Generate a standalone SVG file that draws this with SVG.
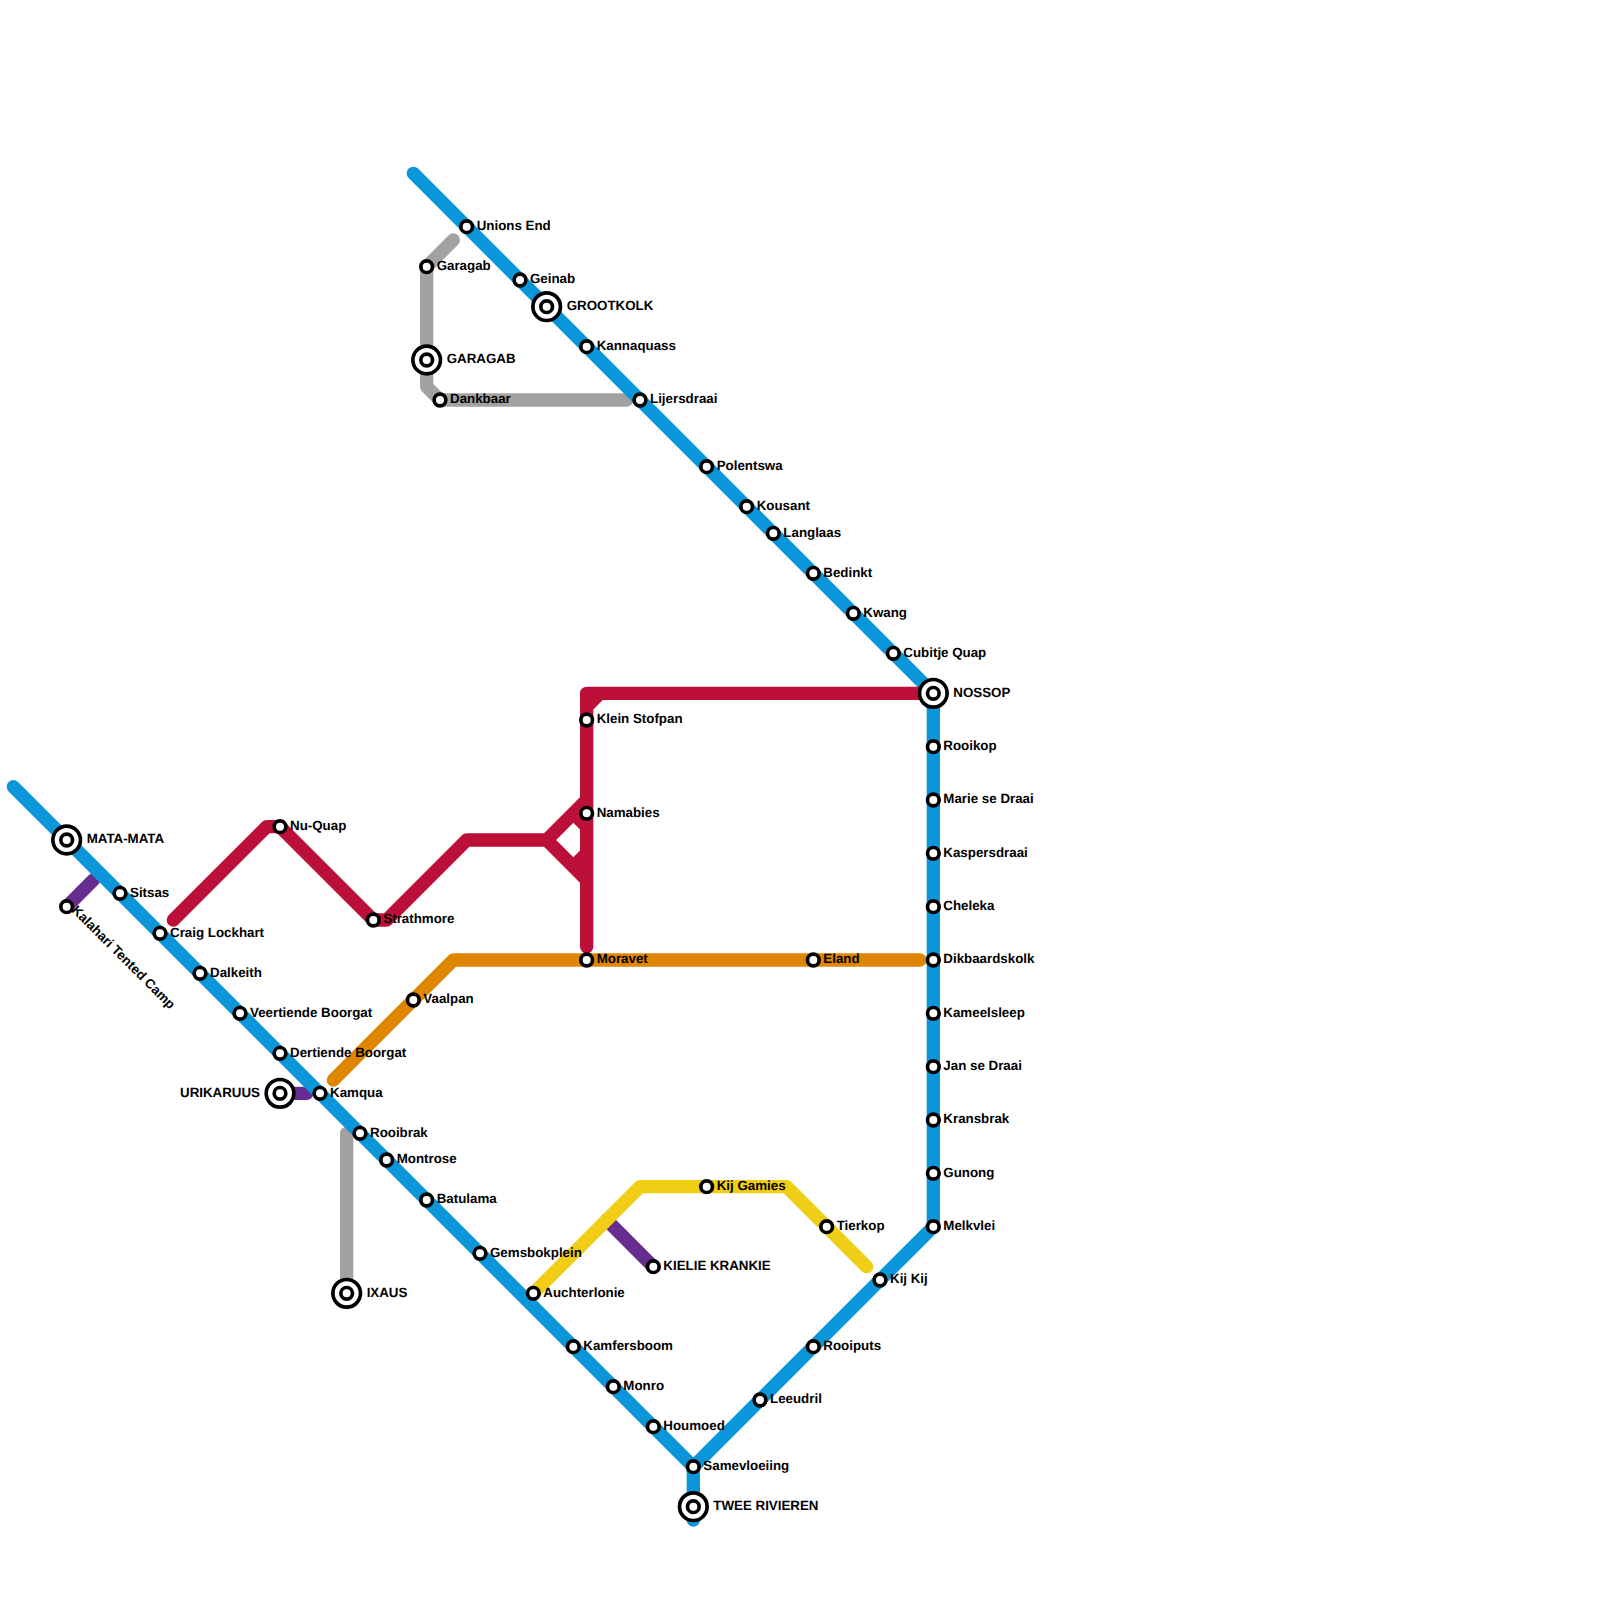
<svg xmlns="http://www.w3.org/2000/svg" width="1600" height="1600" viewBox="0 0 1600 1600">
<style>
.l{fill:none;stroke-width:13.33;stroke-linecap:round;stroke-linejoin:round}
.blue{stroke:#0a96d8}.red{stroke:#bd1038}.orange{stroke:#df8600}.gray{stroke:#a2a2a2}.purple{stroke:#662c90}.yellow{stroke:#f0ce15}
.s{fill:#fff;stroke:#000;stroke-width:3.67}
text{font-family:"Liberation Sans",Arial,sans-serif;font-weight:700;font-size:13.33px;fill:#000;text-rendering:geometricPrecision}
</style>
<rect width="1600" height="1600" fill="#fff"/>
<g id="connectors">
<path class="l purple" d="M66.67 906.67L93.33 880"/>
<path class="l purple" d="M280 1093.33H306.67"/>
<path class="l purple" d="M606.67 1220L653.33 1266.67"/>
<path class="l gray" d="M453.33 240L426.67 266.67V386.67L440 400H626.67"/>
<path class="l gray" d="M346.67 1133.33V1293.33"/>
<path class="l blue" d="M13.33 786.67L693.33 1466.67V1520M693.33 1466.67L933.33 1226.67V693.33L413.33 173.33"/>
<path class="l orange" d="M333.33 1080L453.33 960H920"/>
<path class="l red" d="M173.33 920L266.67 826.67H280L373.33 920H386.67L466.67 840H546.67L586.67 800M546.67 840L586.67 880M586.67 946.67V693.33H920M586.67 706.67L600 693.33M573.33 813.33L586.67 826.67M573.33 866.67L586.67 853.33"/>
<path class="l yellow" d="M533.33 1293.33L640 1186.67H786.67L866.67 1266.67"/>
</g>
<g id="mata-mata"><circle class="s" cx="66.67" cy="840" r="13.8"/><circle class="s" cx="66.67" cy="840" r="5.83"/><text x="86.67" y="843.3">MATA-MATA</text></g>
<g id="kalahari"><circle class="s" cx="66.67" cy="906.67" r="5.83"/><text transform="translate(71 911) rotate(45)">Kalahari Tented Camp</text></g>
<g id="sitsas"><circle class="s" cx="120" cy="893.33" r="5.83"/><text x="130" y="896.6">Sitsas</text></g>
<g id="craig"><circle class="s" cx="160" cy="933.33" r="5.83"/><text x="170" y="936.6">Craig Lockhart</text></g>
<g id="dalkeith"><circle class="s" cx="200" cy="973.33" r="5.83"/><text x="210" y="976.6">Dalkeith</text></g>
<g id="veertiende"><circle class="s" cx="240" cy="1013.33" r="5.83"/><text x="250" y="1016.6">Veertiende Boorgat</text></g>
<g id="dertiende"><circle class="s" cx="280" cy="1053.33" r="5.83"/><text x="290" y="1056.6">Dertiende Boorgat</text></g>
<g id="urikaruus"><circle class="s" cx="280" cy="1093.33" r="13.8"/><circle class="s" cx="280" cy="1093.33" r="5.83"/><text x="260" y="1096.6" text-anchor="end">URIKARUUS</text></g>
<g id="kamqua"><circle class="s" cx="320" cy="1093.33" r="5.83"/><text x="330" y="1096.6">Kamqua</text></g>
<g id="rooibrak"><circle class="s" cx="360" cy="1133.33" r="5.83"/><text x="370" y="1136.6">Rooibrak</text></g>
<g id="montrose"><circle class="s" cx="386.67" cy="1160" r="5.83"/><text x="396.67" y="1163.3">Montrose</text></g>
<g id="batulama"><circle class="s" cx="426.67" cy="1200" r="5.83"/><text x="436.67" y="1203.3">Batulama</text></g>
<g id="gemsbokplein"><circle class="s" cx="480" cy="1253.33" r="5.83"/><text x="490" y="1256.6">Gemsbokplein</text></g>
<g id="auchterlonie"><circle class="s" cx="533.33" cy="1293.33" r="5.83"/><text x="543.33" y="1296.6">Auchterlonie</text></g>
<g id="kamfersboom"><circle class="s" cx="573.33" cy="1346.67" r="5.83"/><text x="583.33" y="1350">Kamfersboom</text></g>
<g id="monro"><circle class="s" cx="613.33" cy="1386.67" r="5.83"/><text x="623.33" y="1390">Monro</text></g>
<g id="houmoed"><circle class="s" cx="653.33" cy="1426.67" r="5.83"/><text x="663.33" y="1430">Houmoed</text></g>
<g id="samevloeiing"><circle class="s" cx="693.33" cy="1466.67" r="5.83"/><text x="703.33" y="1470">Samevloeiing</text></g>
<g id="twee-rivieren"><circle class="s" cx="693.33" cy="1506.67" r="13.8"/><circle class="s" cx="693.33" cy="1506.67" r="5.83"/><text x="713.33" y="1510">TWEE RIVIEREN</text></g>
<g id="leeudril"><circle class="s" cx="760" cy="1400" r="5.83"/><text x="770" y="1403.3">Leeudril</text></g>
<g id="rooiputs"><circle class="s" cx="813.33" cy="1346.67" r="5.83"/><text x="823.33" y="1350">Rooiputs</text></g>
<g id="kij-kij"><circle class="s" cx="880" cy="1280" r="5.83"/><text x="890" y="1283.3">Kij Kij</text></g>
<g id="tierkop"><circle class="s" cx="826.67" cy="1226.67" r="5.83"/><text x="836.67" y="1230">Tierkop</text></g>
<g id="kij-gamies"><circle class="s" cx="706.67" cy="1186.67" r="5.83"/><text x="716.67" y="1190">Kij Gamies</text></g>
<g id="kielie-krankie"><circle class="s" cx="653.33" cy="1266.67" r="5.83"/><text x="663.33" y="1270">KIELIE KRANKIE</text></g>
<g id="melkvlei"><circle class="s" cx="933.33" cy="1226.67" r="5.83"/><text x="943.33" y="1230">Melkvlei</text></g>
<g id="gunong"><circle class="s" cx="933.33" cy="1173.33" r="5.83"/><text x="943.33" y="1176.6">Gunong</text></g>
<g id="kransbrak"><circle class="s" cx="933.33" cy="1120" r="5.83"/><text x="943.33" y="1123.3">Kransbrak</text></g>
<g id="jan-se-draai"><circle class="s" cx="933.33" cy="1066.67" r="5.83"/><text x="943.33" y="1070">Jan se Draai</text></g>
<g id="kameelsleep"><circle class="s" cx="933.33" cy="1013.33" r="5.83"/><text x="943.33" y="1016.6">Kameelsleep</text></g>
<g id="dikbaardskolk"><circle class="s" cx="933.33" cy="960" r="5.83"/><text x="943.33" y="963.3">Dikbaardskolk</text></g>
<g id="cheleka"><circle class="s" cx="933.33" cy="906.67" r="5.83"/><text x="943.33" y="910">Cheleka</text></g>
<g id="kaspersdraai"><circle class="s" cx="933.33" cy="853.33" r="5.83"/><text x="943.33" y="856.6">Kaspersdraai</text></g>
<g id="marie-se-draai"><circle class="s" cx="933.33" cy="800" r="5.83"/><text x="943.33" y="803.3">Marie se Draai</text></g>
<g id="rooikop"><circle class="s" cx="933.33" cy="746.67" r="5.83"/><text x="943.33" y="750">Rooikop</text></g>
<g id="nossop"><circle class="s" cx="933.33" cy="693.33" r="13.8"/><circle class="s" cx="933.33" cy="693.33" r="5.83"/><text x="953.33" y="696.6">NOSSOP</text></g>
<g id="cubitje-quap"><circle class="s" cx="893.33" cy="653.33" r="5.83"/><text x="903.33" y="656.6">Cubitje Quap</text></g>
<g id="kwang"><circle class="s" cx="853.33" cy="613.33" r="5.83"/><text x="863.33" y="616.6">Kwang</text></g>
<g id="bedinkt"><circle class="s" cx="813.33" cy="573.33" r="5.83"/><text x="823.33" y="576.6">Bedinkt</text></g>
<g id="langlaas"><circle class="s" cx="773.33" cy="533.33" r="5.83"/><text x="783.33" y="536.6">Langlaas</text></g>
<g id="kousant"><circle class="s" cx="746.67" cy="506.67" r="5.83"/><text x="756.67" y="510">Kousant</text></g>
<g id="polentswa"><circle class="s" cx="706.67" cy="466.67" r="5.83"/><text x="716.67" y="470">Polentswa</text></g>
<g id="lijersdraai"><circle class="s" cx="640" cy="400" r="5.83"/><text x="650" y="403.3">Lijersdraai</text></g>
<g id="kannaquass"><circle class="s" cx="586.67" cy="346.67" r="5.83"/><text x="596.67" y="350">Kannaquass</text></g>
<g id="grootkolk"><circle class="s" cx="546.67" cy="306.67" r="13.8"/><circle class="s" cx="546.67" cy="306.67" r="5.83"/><text x="566.67" y="310">GROOTKOLK</text></g>
<g id="geinab"><circle class="s" cx="520" cy="280" r="5.83"/><text x="530" y="283.3">Geinab</text></g>
<g id="unions-end"><circle class="s" cx="466.67" cy="226.67" r="5.83"/><text x="476.67" y="230">Unions End</text></g>
<g id="garagab"><circle class="s" cx="426.67" cy="266.67" r="5.83"/><text x="436.67" y="270">Garagab</text></g>
<g id="garagab-station"><circle class="s" cx="426.67" cy="360" r="13.8"/><circle class="s" cx="426.67" cy="360" r="5.83"/><text x="446.67" y="363.3">GARAGAB</text></g>
<g id="dankbaar"><circle class="s" cx="440" cy="400" r="5.83"/><text x="450" y="403.3">Dankbaar</text></g>
<g id="ixaus"><circle class="s" cx="346.67" cy="1293.33" r="13.8"/><circle class="s" cx="346.67" cy="1293.33" r="5.83"/><text x="366.67" y="1296.6">IXAUS</text></g>
<g id="nu-quap"><circle class="s" cx="280" cy="826.67" r="5.83"/><text x="290" y="830">Nu-Quap</text></g>
<g id="strathmore"><circle class="s" cx="373.33" cy="920" r="5.83"/><text x="383.33" y="923.3">Strathmore</text></g>
<g id="vaalpan"><circle class="s" cx="413.33" cy="1000" r="5.83"/><text x="423.33" y="1003.3">Vaalpan</text></g>
<g id="moravet"><circle class="s" cx="586.67" cy="960" r="5.83"/><text x="596.67" y="963.3">Moravet</text></g>
<g id="eland"><circle class="s" cx="813.33" cy="960" r="5.83"/><text x="823.33" y="963.3">Eland</text></g>
<g id="namabies"><circle class="s" cx="586.67" cy="813.33" r="5.83"/><text x="596.67" y="816.6">Namabies</text></g>
<g id="klein-stofpan"><circle class="s" cx="586.67" cy="720" r="5.83"/><text x="596.67" y="723.3">Klein Stofpan</text></g>
</svg>
